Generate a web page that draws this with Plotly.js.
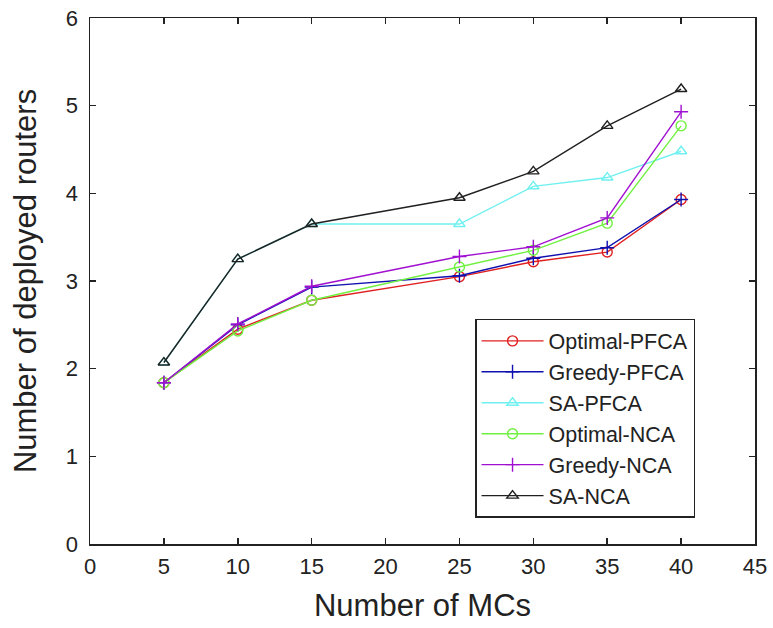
<!DOCTYPE html>
<html><head><meta charset="utf-8">
<script src="https://cdn.plot.ly/plotly-3.0.1.min.js"></script>
<style>body{margin:0;background:#fff}#c{width:773px;height:628px}</style>
</head><body><div id="c"></div>
<script>
const mcs = [5, 10, 15, 25, 30, 35, 40];
const optimalPFCA = [1.84, 2.45, 2.78, 3.05, 3.22, 3.33, 3.93];
const greedyPFCA  = [1.84, 2.50, 2.93, 3.06, 3.26, 3.38, 3.93];
const saPFCA      = [2.07, 3.25, 3.65, 3.65, 4.08, 4.18, 4.48];
const optimalNCA  = [1.84, 2.43, 2.78, 3.16, 3.35, 3.66, 4.77];
const greedyNCA   = [1.84, 2.51, 2.94, 3.28, 3.39, 3.72, 4.93];
const saNCA       = [2.07, 3.25, 3.65, 3.95, 4.25, 4.77, 5.19];
const names = ['Optimal-PFCA','Greedy-PFCA','SA-PFCA','Optimal-NCA','Greedy-NCA','SA-NCA'];
const colors = ['#e02020','#1010b0','#70f0f0','#70f040','#a010d0','#202020'];
const symbols = ['circle-open','cross-thin-open','triangle-up-open','circle-open','cross-thin-open','triangle-up-open'];
const series = [optimalPFCA, greedyPFCA, saPFCA, optimalNCA, greedyNCA, saNCA];
const traces = series.map((ys,i)=>({
  x: mcs, y: ys, name: names[i], type:'scatter', mode:'lines+markers',
  line:{color:colors[i], width:1.4},
  marker:{symbol:symbols[i], size:10, color:colors[i], line:{color:colors[i], width:1.4}}
}));
const font = {family:'Liberation Sans, Arial, sans-serif', color:'#222'};
Plotly.newPlot('c', traces, {
  width:773, height:628,
  margin:{l:90, r:18, t:18, b:84},
  paper_bgcolor:'#fff', plot_bgcolor:'#fff',
  font: Object.assign({size:22}, font),
  showlegend:true,
  legend:{x:0.579, y:0.428, xanchor:'left', yanchor:'top', bgcolor:'#fff',
    bordercolor:'#222', borderwidth:1.5, font:Object.assign({size:21.5}, font),
    tracegroupgap:0, itemwidth:62},
  xaxis:{range:[0,45], dtick:5, tick0:0, ticks:'inside', ticklen:6, tickwidth:1.5, tickcolor:'#222',
    showline:true, linecolor:'#222', linewidth:1.5, mirror:'ticks', showgrid:false, zeroline:false,
    tickfont:Object.assign({size:22}, font), ticklabelstandoff:2,
    title:{text:'Number of MCs', font:Object.assign({size:31}, font), standoff:16}},
  yaxis:{range:[0,6], dtick:1, tick0:0, ticks:'inside', ticklen:6, tickwidth:1.5, tickcolor:'#222',
    showline:true, linecolor:'#222', linewidth:1.5, mirror:'ticks', showgrid:false, zeroline:false,
    tickfont:Object.assign({size:22}, font), ticklabelstandoff:6,
    title:{text:'Number of deployed routers', font:Object.assign({size:31}, font), standoff:20}}
}, {displayModeBar:false, staticPlot:true});
</script></body></html>
